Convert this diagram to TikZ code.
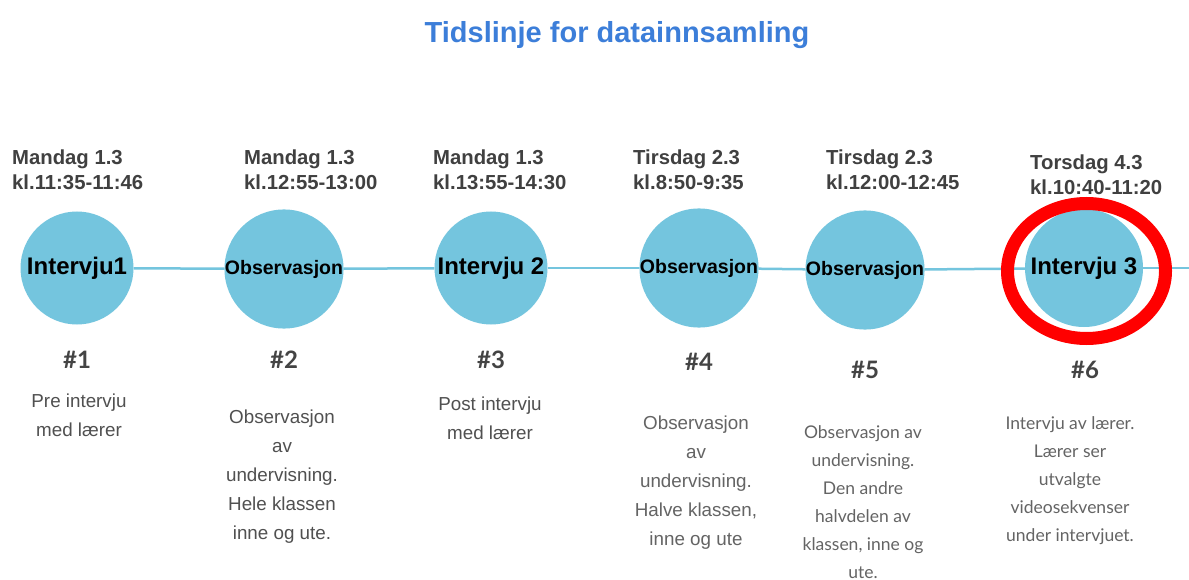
\documentclass[tikz,border=0pt]{standalone}
\usepackage{fontspec}
\setmainfont{Liberation Sans}
\newfontfamily\arialf{Liberation Sans}
\newfontfamily\latof{Lato}
\usetikzlibrary{shapes.geometric}
\definecolor{tlblue}{RGB}{116,197,222}
\definecolor{titleblue}{RGB}{60,126,217}
\definecolor{dategrey}{RGB}{64,64,64}
\definecolor{descgrey}{RGB}{80,80,80}
\definecolor{desclight}{RGB}{100,100,100}
\definecolor{numgrey}{RGB}{68,68,68}
\tikzset{
  event/.style={circle, fill=tlblue, minimum size=113pt, inner sep=0pt, text=black,
    font=\arialf\bfseries\fontsize{24}{26}\selectfont},
  obs/.style={event, font=\arialf\bfseries\fontsize{19.5}{22}\selectfont},
  tline/.style={draw=tlblue, line width=2.5pt},
  datelbl/.style={anchor=north west, inner sep=0pt, align=left, text=dategrey,
    font=\arialf\bfseries\fontsize{20.3}{25}\selectfont},
  numlbl/.style={inner sep=0pt, text=numgrey, font=\latof\bfseries\fontsize{24}{28}\selectfont},
  descA/.style={anchor=north, inner sep=0pt, align=center, text=descgrey,
    font=\arialf\fontsize{18.8}{29}\selectfont},
  descB/.style={descA, text=desclight},
  descC/.style={anchor=north, inner sep=0pt, align=center, text=desclight,
    font=\latof\fontsize{17.5}{28}\selectfont},
  ring/.style={ellipse, draw=red, line width=13pt, minimum width=158pt, minimum height=135pt, inner sep=0pt}
}
\begin{document}
\begin{tikzpicture}[x=1pt,y=-1pt]
\useasboundingbox (0,0) rectangle (1189,580);
\fill[white] (0,0) rectangle (1189,580);

\node[anchor=base, inner sep=0pt, text=titleblue, font=\arialf\bfseries\fontsize{29}{32}\selectfont] (title) at (617,43) {Tidslinje for datainnsamling};

% circles
\node[event] (c1) at (77,268) {Intervju1};
\node[obs] (c2) at (284,269) {Observasjon};
\node[event] (c3) at (491,268) {Intervju 2};
\node[obs] (c4) at (699,268) {Observasjon};
\node[obs] (c5) at (865,270) {Observasjon};
\node[event, minimum size=118pt] (c6) at (1084,268) {Intervju 3};
\coordinate (end) at (1189,268);

\draw[tline] (c1) -- (c2);
\draw[tline] (c2) -- (c3);
\draw[tline] (c3) -- (c4);
\draw[tline] (c4) -- (c5);
\draw[tline] (c5) -- (c6);
\draw[tline] (c6) -- (end);

\node[ring] (hl) at (1086.5,271) {};

% dates
\node[datelbl] (d1) at (12,150) {Mandag 1.3\\kl.11:35-11:46};
\node[datelbl] (d2) at (244,150) {Mandag 1.3\\kl.12:55-13:00};
\node[datelbl] (d3) at (433,150) {Mandag 1.3\\kl.13:55-14:30};
\node[datelbl] (d4) at (633,150) {Tirsdag 2.3\\kl.8:50-9:35};
\node[datelbl] (d5) at (826,150) {Tirsdag 2.3\\kl.12:00-12:45};
\node[datelbl] (d6) at (1030,155) {Torsdag 4.3\\kl.10:40-11:20};

% numbers
\node[numlbl] (n1) at (77,360) {\#1};
\node[numlbl] (n2) at (284,360) {\#2};
\node[numlbl] (n3) at (491,360) {\#3};
\node[numlbl] (n4) at (699,362) {\#4};
\node[numlbl] (n5) at (865,370) {\#5};
\node[numlbl] (n6) at (1085,370) {\#6};

% descriptions
\node[descA] (t1) at (79,394) {Pre intervju\\med lærer};
\node[descA] (t2) at (282,410) {Observasjon\\av\\undervisning.\\Hele klassen\\inne og ute.};
\node[descA] (t3) at (490,397) {Post intervju\\med lærer};
\node[descB] (t4) at (696,416) {Observasjon\\av\\undervisning.\\Halve klassen,\\inne og ute};
\node[descC] (t5) at (863,425) {Observasjon av\\undervisning.\\Den andre\\halvdelen av\\klassen, inne og\\ute.};
\node[descC] (t6) at (1070,416) {Intervju av lærer.\\Lærer ser\\utvalgte\\videosekvenser\\under intervjuet.};
\end{tikzpicture}
\end{document}
